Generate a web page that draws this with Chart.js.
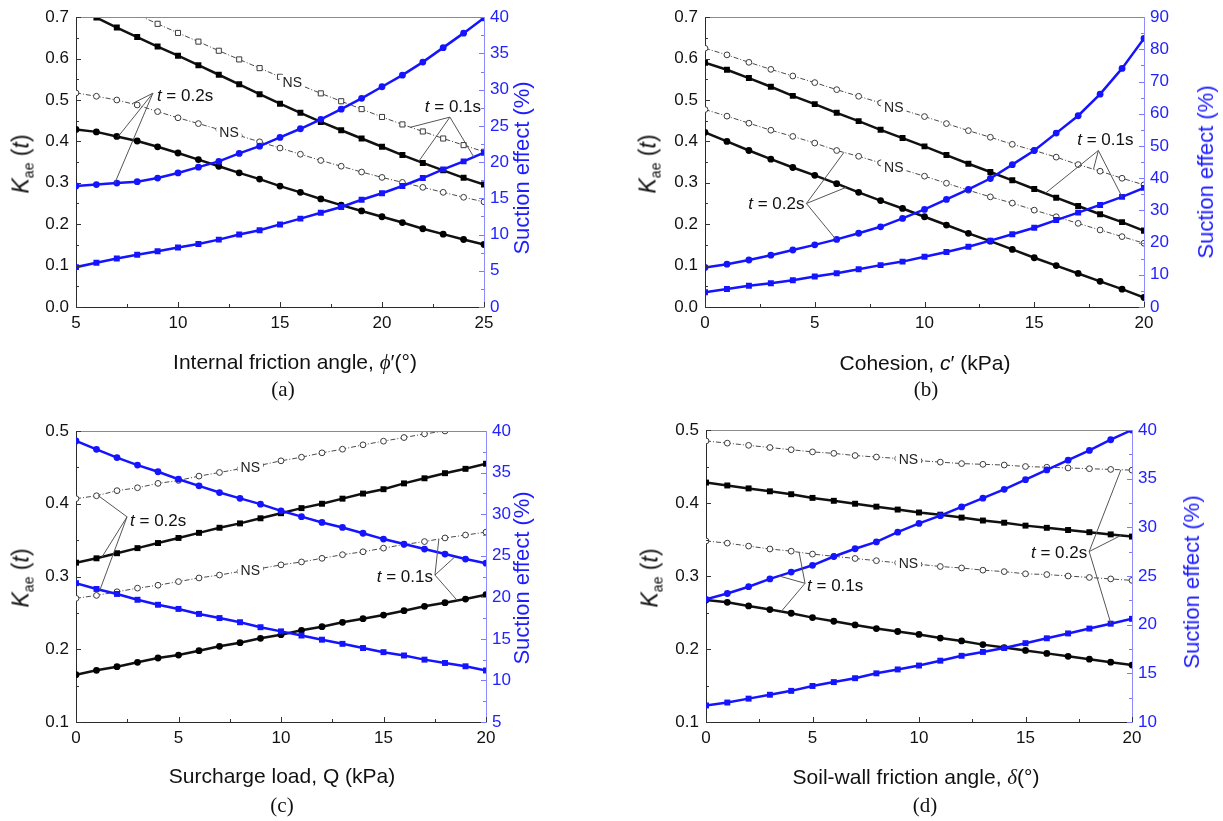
<!DOCTYPE html>
<html><head><meta charset="utf-8">
<script src="https://cdn.jsdelivr.net/npm/chart.js@4.4.1/dist/chart.umd.min.js"></script>
<style>
html,body{margin:0;padding:0;background:#fff;}
#wrap{position:relative;width:1223px;height:821px;overflow:hidden;font-family:"Liberation Sans",Arial,sans-serif;color:#111}
canvas{position:absolute}
.lab{position:absolute;white-space:nowrap;transform:translate(-50%,-50%);font-size:21px;line-height:1}
.rot{transform:translate(-50%,-50%) rotate(-90deg)}
.kt{font-size:23px}
.blue{color:#1c1cff;font-size:22px}
.cap{font-family:"Liberation Serif","Times New Roman",serif;font-size:21px}
.sub{font-size:14px;position:relative;top:5px}
.gr{font-family:"Liberation Serif","Times New Roman",serif;font-style:italic}
</style></head><body><div id="wrap">
<canvas id="ca" style="left:0px;top:0px" width="600" height="400"></canvas>
<canvas id="cb" style="left:600px;top:0px" width="623" height="400"></canvas>
<canvas id="cc" style="left:0px;top:400px" width="600" height="421"></canvas>
<canvas id="cd" style="left:600px;top:400px" width="623" height="421"></canvas>

<div class="lab rot kt" style="left:21px;top:164px"><i>K</i><span class="sub">ae</span> (<i>t</i>)</div>
<div class="lab rot blue" style="left:522px;top:168px">Suction effect (%)</div>
<div class="lab" style="left:295px;top:362px">Internal friction angle, <span class="gr">ϕ</span>′(°)</div>
<div class="lab cap" style="left:283px;top:389px">(a)</div>

<div class="lab rot kt" style="left:648px;top:164px"><i>K</i><span class="sub">ae</span> (<i>t</i>)</div>
<div class="lab rot blue" style="left:1206px;top:172px">Suction effect (%)</div>
<div class="lab" style="left:925px;top:362px">Cohesion, <i>c</i>′ (kPa)</div>
<div class="lab cap" style="left:926px;top:389px">(b)</div>

<div class="lab rot kt" style="left:21px;top:578px"><i>K</i><span class="sub">ae</span> (<i>t</i>)</div>
<div class="lab rot blue" style="left:522px;top:578px">Suction effect (%)</div>
<div class="lab" style="left:282px;top:775px">Surcharge load, Q (kPa)</div>
<div class="lab cap" style="left:282px;top:805px">(c)</div>

<div class="lab rot kt" style="left:650px;top:578px"><i>K</i><span class="sub">ae</span> (<i>t</i>)</div>
<div class="lab rot blue" style="left:1192px;top:582px">Suction effect (%)</div>
<div class="lab" style="left:916px;top:777px">Soil-wall friction angle, <span class="gr">δ</span>(°)</div>
<div class="lab cap" style="left:925px;top:805px">(d)</div>
</div>
<script>
// ---------- DATA ----------
// (a) internal friction angle
const phiA = [5,6,7,8,9,10,11,12,13,14,15,16,17,18,19,20,21,22,23,24,25];
const nsSqA = [0.775,0.752,0.729,0.706,0.684,0.662,0.641,0.619,0.598,0.577,0.556,0.536,0.516,0.497,0.478,0.459,0.441,0.424,0.407,0.391,0.375];
const kSqA  = [0.722,0.699,0.675,0.652,0.629,0.607,0.584,0.561,0.538,0.514,0.491,0.469,0.447,0.427,0.407,0.387,0.367,0.348,0.330,0.312,0.296];
const nsCiA = [0.517,0.509,0.500,0.488,0.472,0.457,0.443,0.429,0.414,0.399,0.384,0.369,0.354,0.340,0.326,0.313,0.301,0.289,0.277,0.265,0.254];
const kCiA  = [0.429,0.423,0.412,0.401,0.387,0.372,0.356,0.340,0.324,0.309,0.292,0.277,0.261,0.246,0.232,0.218,0.204,0.189,0.176,0.163,0.151];
const sCiA  = [16.7,16.9,17.1,17.3,17.8,18.5,19.3,20.1,21.2,22.2,23.4,24.6,25.9,27.3,28.8,30.4,32.0,33.8,35.8,37.8,39.9];
const sSqA  = [5.5,6.1,6.7,7.2,7.7,8.2,8.7,9.3,10.0,10.6,11.4,12.2,13.0,13.8,14.8,15.7,16.7,17.8,19.0,20.1,21.3];
// (b) cohesion
const cohB = [0,1,2,3,4,5,6,7,8,9,10,11,12,13,14,15,16,17,18,19,20];
const nsUpB = [0.625,0.609,0.591,0.574,0.558,0.542,0.525,0.509,0.493,0.476,0.460,0.443,0.426,0.410,0.393,0.378,0.362,0.344,0.328,0.311,0.295];
const kSqB  = [0.590,0.573,0.553,0.532,0.510,0.490,0.469,0.449,0.428,0.408,0.388,0.367,0.346,0.326,0.306,0.285,0.264,0.244,0.224,0.205,0.184];
const nsLoB = [0.477,0.461,0.444,0.427,0.412,0.396,0.378,0.364,0.348,0.332,0.316,0.299,0.282,0.266,0.251,0.234,0.218,0.202,0.186,0.170,0.154];
const kCiB  = [0.422,0.400,0.378,0.357,0.337,0.318,0.298,0.277,0.257,0.238,0.218,0.198,0.178,0.159,0.139,0.119,0.100,0.081,0.062,0.043,0.023];
const sCiB  = [12.3,13.3,14.6,16.1,17.7,19.3,21.0,22.9,24.9,27.5,30.3,33.4,36.5,39.9,44.2,48.6,54.0,59.4,66.1,74.1,83.4];
const sSqB  = [4.6,5.6,6.6,7.4,8.3,9.5,10.5,11.7,13.0,14.1,15.6,17.1,18.7,20.6,22.6,24.6,27.0,29.3,31.7,34.2,37.0];
// (c) surcharge load
const qC = [0,1,2,3,4,5,6,7,8,9,10,11,12,13,14,15,16,17,18,19,20];
const nsUpC = [0.407,0.411,0.418,0.422,0.428,0.432,0.438,0.443,0.448,0.453,0.459,0.464,0.470,0.475,0.481,0.486,0.491,0.496,0.500,0.505,0.509];
const kSqC  = [0.319,0.325,0.332,0.339,0.346,0.353,0.360,0.367,0.373,0.380,0.387,0.394,0.400,0.407,0.414,0.420,0.428,0.435,0.442,0.448,0.455];
const nsLoC = [0.270,0.274,0.279,0.284,0.288,0.293,0.298,0.302,0.307,0.311,0.316,0.320,0.325,0.330,0.334,0.339,0.344,0.348,0.353,0.357,0.361];
const kCiC  = [0.165,0.171,0.176,0.182,0.188,0.192,0.198,0.204,0.209,0.215,0.220,0.226,0.231,0.237,0.242,0.247,0.253,0.259,0.264,0.269,0.275];
const sCiC  = [38.8,37.8,36.8,35.9,35.1,34.2,33.4,32.6,31.9,31.2,30.4,29.7,29.0,28.4,27.7,27.0,26.4,25.8,25.2,24.6,24.1];
const sSqC  = [21.7,21.0,20.4,19.7,19.1,18.6,18.0,17.5,17.0,16.4,15.9,15.4,14.9,14.4,13.9,13.4,13.0,12.5,12.1,11.7,11.2];
// (d) soil-wall friction angle
const delD = [0,1,2,3,4,5,6,7,8,9,10,11,12,13,14,15,16,17,18,19,20];
const nsUpD = [0.485,0.482,0.479,0.476,0.473,0.470,0.468,0.465,0.463,0.461,0.458,0.456,0.454,0.453,0.452,0.450,0.449,0.448,0.447,0.446,0.445];
const kSqD  = [0.428,0.424,0.420,0.416,0.412,0.407,0.403,0.399,0.395,0.391,0.387,0.384,0.380,0.376,0.373,0.369,0.366,0.363,0.360,0.357,0.354];
const nsLoD = [0.348,0.345,0.341,0.337,0.334,0.330,0.327,0.324,0.321,0.318,0.316,0.313,0.311,0.308,0.306,0.303,0.302,0.300,0.298,0.296,0.294];
const kCiD  = [0.267,0.264,0.259,0.254,0.249,0.243,0.238,0.233,0.228,0.224,0.220,0.215,0.211,0.206,0.202,0.198,0.194,0.190,0.186,0.182,0.178];
const sCiD  = [22.6,23.2,23.9,24.7,25.4,26.1,27.0,27.8,28.5,29.5,30.4,31.2,32.1,33.0,33.9,34.9,35.9,36.9,37.9,39.0,40.0];
const sSqD  = [11.7,12.0,12.4,12.8,13.2,13.7,14.1,14.5,15.0,15.4,15.8,16.3,16.8,17.2,17.6,18.1,18.6,19.1,19.6,20.1,20.6];

// axis ranges [min, max, step]
const xRangeA = [5,25,5],  yRangeA = [0,0.7,0.1], rRangeA = [0,40,5];
const xRangeB = [0,20,5],  yRangeB = [0,0.7,0.1], rRangeB = [0,90,10];
const xRangeC = [0,20,5],  yRangeC = [0.1,0.5,0.1], rRangeC = [5,40,5];
const xRangeD = [0,20,5],  yRangeD = [0.1,0.5,0.1], rRangeD = [10,40,5];

// ---------- PANELS ----------
const FF = '"Liberation Sans", Arial, sans-serif';
const PANELS = {
  ca: {xs: phiA, xr: xRangeA, yr: yRangeA, rr: rRangeA, W:600, H:400, L:76, R:484, T:16, B:307,
       series: [
         {key:'nsU', kind:'ns', shape:'rect', data: nsSqA},
         {key:'nsL', kind:'ns', shape:'circle', data: nsCiA},
         {key:'kS', kind:'k', shape:'rect', data: kSqA},
         {key:'kC', kind:'k', shape:'circle', data: kCiA},
         {key:'sC', kind:'s', shape:'circle', data: sCiA},
         {key:'sS', kind:'s', shape:'rect', data: sSqA}],
       ann: [
         {rest:' = 0.2s', ax:8.77, ay:0.5165, align:'left', dx:4, dy:3, targets:[['nsL',7.75],['kC',7.06],['sC',6.9]]},
         {rest:' = 0.1s', ax:23.33, ay:0.4586, align:'center', dx:3, dy:-10, targets:[['nsU',21.4],['kS',21.8],['sS',24.5]]}],
       ns: [['nsU',15.6],['nsL',12.5]]},
  cb: {xs: cohB, xr: xRangeB, yr: yRangeB, rr: rRangeB, W:623, H:400, L:105, R:544, T:16, B:307,
       series: [
         {key:'nsU', kind:'ns', shape:'circle', data: nsUpB},
         {key:'nsL', kind:'ns', shape:'circle', data: nsLoB},
         {key:'kS', kind:'k', shape:'rect', data: kSqB},
         {key:'kC', kind:'k', shape:'circle', data: kCiB},
         {key:'sC', kind:'s', shape:'circle', data: sCiB},
         {key:'sS', kind:'s', shape:'rect', data: sSqB}],
       ann: [
         {rest:' = 0.1s', ax:17.92, ay:0.378, align:'center', dx:7, dy:-10, targets:[['kS',15.5],['nsU',17.7],['sS',19.0]]},
         {rest:' = 0.2s', ax:4.62, ay:0.25, align:'right', dx:-2, dy:1, targets:[['nsL',6.33],['kC',6.43],['sC',5.97]]}],
       ns: [['nsU',8.6],['nsL',8.6]]},
  cc: {xs: qC, xr: xRangeC, yr: yRangeC, rr: rRangeC, W:600, H:421, L:76, R:486, T:31, B:322,
       series: [
         {key:'nsU', kind:'ns', shape:'circle', data: nsUpC},
         {key:'nsL', kind:'ns', shape:'circle', data: nsLoC},
         {key:'kS', kind:'k', shape:'rect', data: kSqC},
         {key:'kC', kind:'k', shape:'circle', data: kCiC},
         {key:'sC', kind:'s', shape:'circle', data: sCiC},
         {key:'sS', kind:'s', shape:'rect', data: sSqC}],
       ann: [
         {rest:' = 0.2s', ax:2.49, ay:0.382, align:'left', dx:3, dy:4, targets:[['nsU',1.07],['kS',1.27],['sS',1.17]]},
         {rest:' = 0.1s', ax:17.51, ay:0.302, align:'right', dx:-2, dy:2, targets:[['nsL',17.7],['sC',18.5],['kC',18.6]]}],
       ns: [['nsU',8.5],['nsL',8.5]]},
  cd: {xs: delD, xr: xRangeD, yr: yRangeD, rr: rRangeD, W:623, H:421, L:106, R:532, T:30, B:322,
       series: [
         {key:'nsU', kind:'ns', shape:'circle', data: nsUpD},
         {key:'nsL', kind:'ns', shape:'circle', data: nsLoD},
         {key:'kS', kind:'k', shape:'rect', data: kSqD},
         {key:'kC', kind:'k', shape:'circle', data: kCiD},
         {key:'sC', kind:'s', shape:'circle', data: sCiD},
         {key:'sS', kind:'s', shape:'rect', data: sSqD}],
       ann: [
         {rest:' = 0.1s', ax:4.65, ay:0.290, align:'left', dx:2, dy:3, targets:[['nsL',4.37],['sC',3.43],['kC',3.53]]},
         {rest:' = 0.2s', ax:17.99, ay:0.3335, align:'right', dx:-2, dy:2, targets:[['nsU',19.48],['kS',19.48],['sS',19.01]]}],
       ns: [['nsU',9.5],['nsL',9.5]]}
};

const BLUE = '#1414ff';

function makeDataset(s, xs) {
  const d = {key: s.key, label: s.key, data: xs.map((x, i) => ({x: x, y: s.data[i]})),
             pointStyle: s.shape, tension: 0, fill: false, spanGaps: true};
  if (s.kind === 'ns') {
    Object.assign(d, {yAxisID:'y', borderColor:'#4a4a4a', borderWidth:1, borderDash:[5,2,1,2],
      pointRadius: s.shape === 'rect' ? 3.6 : 2.9, pointBackgroundColor:'#fff', pointBorderColor:'#3a3a3a',
      pointBorderWidth:1, order:3});
  } else if (s.kind === 'k') {
    Object.assign(d, {yAxisID:'y', borderColor:'#111', borderWidth:2.5,
      pointRadius: s.shape === 'rect' ? 4.2 : 3.4, pointBackgroundColor:'#000', pointBorderColor:'#000',
      pointBorderWidth:0, order:2});
  } else {
    Object.assign(d, {yAxisID:'y2', borderColor:BLUE, borderWidth:2.5,
      pointRadius: s.shape === 'rect' ? 4.2 : 3.4, pointBackgroundColor:BLUE, pointBorderColor:BLUE,
      pointBorderWidth:0, order:1});
  }
  return d;
}

function yAt(ds, x) {
  const p = ds.data;
  for (let i = 0; i < p.length - 1; i++) {
    if (x >= p[i].x && x <= p[i + 1].x) {
      const t = (x - p[i].x) / (p[i + 1].x - p[i].x);
      return p[i].y + t * (p[i + 1].y - p[i].y);
    }
  }
  return p[p.length - 1].y;
}

function majorMinor(scale) {
  const maj = scale.ticks.map(t => t.value);
  const min = [];
  for (let i = 0; i < maj.length - 1; i++) min.push((maj[i] + maj[i + 1]) / 2);
  return {maj, min};
}

const framePlugin = {
  id: 'frame',
  afterDraw(chart) {
    const {ctx, chartArea: a, scales} = chart;
    ctx.save();
    ctx.lineWidth = 1;
    ctx.strokeStyle = '#8a8a8a';
    ctx.beginPath(); ctx.moveTo(a.left, Math.round(a.top) + 0.5); ctx.lineTo(a.right, Math.round(a.top) + 0.5); ctx.stroke();
    let mm = majorMinor(scales.x);
    ctx.strokeStyle = '#333';
    ctx.beginPath();
    mm.maj.forEach(v => { const p = Math.round(scales.x.getPixelForValue(v)) + 0.5; ctx.moveTo(p, a.bottom); ctx.lineTo(p, a.bottom - 5); });
    mm.min.forEach(v => { const p = Math.round(scales.x.getPixelForValue(v)) + 0.5; ctx.moveTo(p, a.bottom); ctx.lineTo(p, a.bottom - 3); });
    mm = majorMinor(scales.y);
    mm.maj.forEach(v => { const p = Math.round(scales.y.getPixelForValue(v)) + 0.5; ctx.moveTo(a.left, p); ctx.lineTo(a.left + 5, p); });
    mm.min.forEach(v => { const p = Math.round(scales.y.getPixelForValue(v)) + 0.5; ctx.moveTo(a.left, p); ctx.lineTo(a.left + 3, p); });
    ctx.stroke();
    mm = majorMinor(scales.y2);
    ctx.strokeStyle = '#7a7aff';
    ctx.beginPath();
    mm.maj.forEach(v => { const p = Math.round(scales.y2.getPixelForValue(v)) + 0.5; ctx.moveTo(a.right, p); ctx.lineTo(a.right - 5, p); });
    mm.min.forEach(v => { const p = Math.round(scales.y2.getPixelForValue(v)) + 0.5; ctx.moveTo(a.right, p); ctx.lineTo(a.right - 3, p); });
    ctx.stroke();
    ctx.restore();
  }
};

const annPlugin = {
  id: 'annot',
  afterDatasetsDraw(chart) {
    const P = PANELS[chart.canvas.id];
    const {ctx, scales} = chart;
    const find = k => chart.data.datasets.find(d => d.key === k);
    const px = (k, x) => { const d = find(k); return [scales.x.getPixelForValue(x), scales[d.yAxisID].getPixelForValue(yAt(d, x))]; };
    ctx.save();
    P.ann.forEach(an => {
      const ax = scales.x.getPixelForValue(an.ax), ay = scales.y.getPixelForValue(an.ay);
      ctx.strokeStyle = '#555'; ctx.lineWidth = 1; ctx.setLineDash([]);
      ctx.beginPath();
      an.targets.forEach(([k, x]) => { const [tx, ty] = px(k, x); ctx.moveTo(ax, ay); ctx.lineTo(tx, ty); });
      ctx.stroke();
      ctx.font = 'italic 17px ' + FF;
      const w1 = ctx.measureText('t').width;
      ctx.font = '17px ' + FF;
      const w2 = ctx.measureText(an.rest).width;
      const tw = w1 + w2;
      let x0 = an.align === 'left' ? ax + an.dx : an.align === 'right' ? ax + an.dx - tw : ax + an.dx - tw / 2;
      const y0 = ay + an.dy;
      ctx.textBaseline = 'middle'; ctx.textAlign = 'left'; ctx.fillStyle = '#111';
      ctx.font = 'italic 17px ' + FF; ctx.fillText('t', x0, y0);
      ctx.font = '17px ' + FF; ctx.fillText(an.rest, x0 + w1, y0);
    });
    ctx.font = '14px ' + FF;
    ctx.textAlign = 'center'; ctx.textBaseline = 'middle';
    P.ns.forEach(([k, x]) => {
      const [tx, ty] = px(k, x);
      const w = ctx.measureText('NS').width;
      ctx.fillStyle = '#fff';
      ctx.fillRect(tx - w / 2 - 3, ty - 7, w + 6, 14);
      ctx.fillStyle = '#222';
      ctx.fillText('NS', tx, ty + 1);
    });
    ctx.restore();
  }
};

Chart.defaults.font.family = FF;

Object.keys(PANELS).forEach(id => {
  const P = PANELS[id];
  const tickFont = {family: FF, size: 17};
  new Chart(document.getElementById(id), {
    type: 'line',
    data: {datasets: P.series.map(s => makeDataset(s, P.xs))},
    options: {
      responsive: false, animation: false, devicePixelRatio: 1,
      layout: {padding: {top: P.T, left: 0, right: 0, bottom: 0}},
      plugins: {legend: {display: false}, tooltip: {enabled: false}},
      scales: {
        x: {type: 'linear', position: 'bottom', min: P.xr[0], max: P.xr[1],
            ticks: {stepSize: P.xr[2], color: '#111', font: tickFont, padding: 6, maxRotation: 0, autoSkip: false,
                    callback: v => String(Math.round(v))},
            grid: {display: false, drawTicks: false},
            border: {display: true, color: '#2a2a2a', width: 1},
            afterFit: s => { s.height = P.H - P.B; }},
        y: {type: 'linear', position: 'left', min: P.yr[0], max: P.yr[1],
            ticks: {stepSize: P.yr[2], color: '#111', font: tickFont, padding: 7, autoSkip: false,
                    callback: v => v.toFixed(1)},
            grid: {display: false, drawTicks: false},
            border: {display: true, color: '#2a2a2a', width: 1},
            afterFit: s => { s.width = P.L; }},
        y2: {type: 'linear', position: 'right', min: P.rr[0], max: P.rr[1],
            ticks: {stepSize: P.rr[2], color: '#2222ff', font: tickFont, padding: 6, autoSkip: false,
                    callback: v => String(Math.round(v))},
            grid: {display: false, drawTicks: false},
            border: {display: true, color: '#8c8cff', width: 1},
            afterFit: s => { s.width = P.W - P.R; }}
      }
    },
    plugins: [framePlugin, annPlugin]
  });
});
</script>
</body></html>
